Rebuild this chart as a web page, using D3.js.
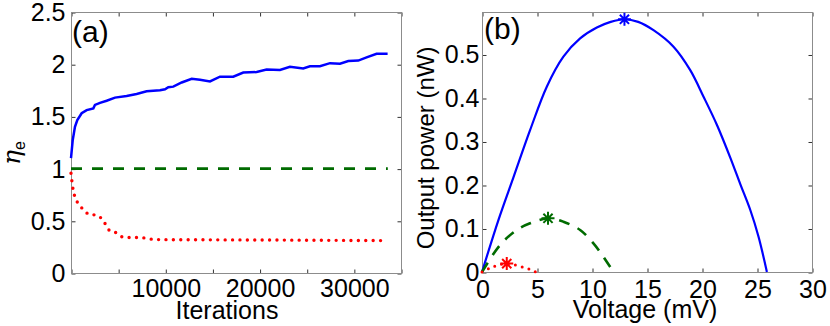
<!DOCTYPE html>
<html>
  <head>
    <meta charset="UTF-8">
    <style>
      body {
        margin: 0;
        background: white;
        font-family: 'Liberation Sans', Arial, sans-serif;
      }

      .axis text {
        font-size: 25px;
        fill: black;
      }

      .axis .domain {
        opacity: 0;
      }

      .axis .tick line {
        stroke: #333;
      }

      .frame {
        fill: none;
        stroke: #8c8c8c;
      }

      .label {
        font-size: 25px;
      }
    </style>
    <script src="https://d3js.org/d3.v7.min.js"></script>
  </head>

  <body>
    <svg id="chart"></svg>

    <script type="text/javascript">
      // panel (a): efficiency vs iterations
      let iterBlue = [0, 180, 420, 670, 1130, 1660, 2370, 2540, 3075, 3780, 4670, 5900, 6960, 8020, 9440,
        9970, 10320, 10850, 11740, 12800, 13680, 14740, 15800, 17210, 18270, 19690, 20750, 22160, 23220,
        24630, 25340, 26400, 27470, 28530, 29410, 30470, 31350, 32410, 33580]
      let etaBlue = [1.10, 1.27, 1.40, 1.465, 1.53, 1.56, 1.577, 1.61, 1.63, 1.65, 1.68, 1.695, 1.715, 1.74, 1.75,
        1.76, 1.78, 1.785, 1.825, 1.86, 1.85, 1.835, 1.88, 1.88, 1.92, 1.925, 1.95, 1.945, 1.975,
        1.96, 1.98, 1.98, 2.01, 2.005, 2.03, 2.035, 2.065, 2.10, 2.10]

      let iterGreen = [0, 33600]
      let etaGreen = [1.0, 1.0]

      let iterRed = [0, 230, 480, 900, 1410, 1940, 2650, 3360, 4060, 4590, 5650, 7240, 9010, 20670, 33200]
      let etaRed = [0.955, 0.795, 0.715, 0.65, 0.60, 0.56, 0.555, 0.51, 0.41, 0.395, 0.34, 0.34, 0.32, 0.316, 0.31]

      let iterTicks = [0, 5000, 10000, 15000, 20000, 25000, 30000, 35000]
      let iterLabels = [10000, 20000, 30000]
      let etaTicks = [0, 0.5, 1, 1.5, 2, 2.5]

      // panel (b): output power vs voltage
      let voltBlue = [0, 1.5, 2.85, 4.37, 5.89, 7.40, 8.92, 10.44, 11.7, 12.95, 14.2, 15.59, 17.41, 18.93, 20.14,
        21.36, 22.57, 23.48, 24.39, 25.14, 25.9]
      let powBlue = [0, 0.12, 0.217, 0.326, 0.426, 0.495, 0.537, 0.562, 0.575, 0.581, 0.575, 0.556, 0.518, 0.464,
        0.403, 0.338, 0.263, 0.202, 0.1425, 0.081, 0]

      let voltGreen = [0, 1.64, 3.16, 4.37, 6.03, 7.40, 8.92, 10.13, 11.04, 11.95]
      let powGreen = [0, 0.062, 0.0966, 0.112, 0.1234, 0.1156, 0.0966, 0.066, 0.035, 0]

      let voltRed = [0, 1.03, 2.25, 3.46, 4.37, 4.91]
      let powRed = [0, 0.012, 0.0193, 0.013, 0.006, 0]

      let peakVolt = [12.95, 6.0, 2.25]
      let peakPow = [0.581, 0.1234, 0.0193]

      let voltTicks = [0, 5, 10, 15, 20, 25, 30]
      let powTicks = [0, 0.1, 0.2, 0.3, 0.4, 0.5]

      let colors = ['#0000ff', '#006b00', '#ff0000']

      function zip(xs, ys) {
        return xs.map((x, i) => ({ x: x, y: ys[i] }))
      }

      let svg = d3.select('#chart')
        .attr('width', 830)
        .attr('height', 326)

      function starPath(cx, cy, r) {
        let p = d3.path()
        let d = r * Math.SQRT1_2
        p.moveTo(cx - r, cy); p.lineTo(cx + r, cy)
        p.moveTo(cx, cy - r); p.lineTo(cx, cy + r)
        p.moveTo(cx - d, cy - d); p.lineTo(cx + d, cy + d)
        p.moveTo(cx - d, cy + d); p.lineTo(cx + d, cy - d)
        return p.toString()
      }

      function drawFrame(x, y) {
        let [x0, x1] = x.range()
        let [y0, y1] = y.range()
        svg.append('rect')
          .attr('class', 'frame')
          .attr('x', x0 + 0.5)
          .attr('y', y1 + 0.5)
          .attr('width', x1 - x0)
          .attr('height', y0 - y1)
      }

      function drawAxes(x, y, xTicks, yTicks, xFormat, yFormat, padX, padY) {
        let [x0, x1] = x.range()
        let [y0, y1] = y.range()

        svg.append('g')
          .attr('class', 'axis')
          .attr('transform', `translate(0.5, ${y0 + 0.5})`)
          .call(d3.axisBottom(x).tickValues(xTicks).tickSize(-4).tickPadding(padX).tickFormat(xFormat))

        svg.append('g')
          .attr('class', 'axis')
          .attr('transform', `translate(0.5, ${y1 + 0.5})`)
          .call(d3.axisTop(x).tickValues(xTicks).tickSize(-4).tickFormat(''))

        svg.append('g')
          .attr('class', 'axis')
          .attr('transform', `translate(${x0 + 0.5}, 0.5)`)
          .call(d3.axisLeft(y).tickValues(yTicks).tickSize(-4).tickPadding(padY).tickFormat(yFormat))

        svg.append('g')
          .attr('class', 'axis')
          .attr('transform', `translate(${x1 + 0.5}, 0.5)`)
          .call(d3.axisRight(y).tickValues(yTicks).tickSize(-4).tickFormat(''))

        drawFrame(x, y)
      }

      // ---- panel (a)
      let xA = d3.scaleLinear().domain([0, 35000]).range([71, 401])
      let yA = d3.scaleLinear().domain([0, 2.5]).range([273, 12])

      drawAxes(xA, yA, iterTicks, etaTicks,
        d => iterLabels.includes(d) ? d.toString() : '',
        d => d.toString(), 6, 6)

      let lineA = d3.line().x(d => xA(d.x)).y(d => yA(d.y))

      svg.append('path')
        .datum(zip(iterBlue, etaBlue))
        .attr('d', lineA)
        .attr('fill', 'none')
        .attr('stroke', colors[0])
        .attr('stroke-width', 2.5)

      svg.append('path')
        .datum(zip(iterGreen, etaGreen))
        .attr('d', lineA)
        .attr('fill', 'none')
        .attr('stroke', colors[1])
        .attr('stroke-width', 2.7)
        .attr('stroke-dasharray', '11 10')

      svg.append('path')
        .datum(zip(iterRed, etaRed))
        .attr('d', lineA.curve(d3.curveMonotoneX))
        .attr('fill', 'none')
        .attr('stroke', colors[2])
        .attr('stroke-width', 3.4)
        .attr('stroke-linecap', 'round')
        .attr('stroke-dasharray', '0 7.4')

      svg.append('text')
        .attr('class', 'label')
        .attr('x', 72)
        .attr('y', 42)
        .style('font-size', '30px')
        .text('(a)')

      svg.append('text')
        .attr('class', 'label')
        .attr('x', 227)
        .attr('y', 319)
        .attr('text-anchor', 'middle')
        .text('Iterations')

      let etaLabel = svg.append('text')
        .attr('transform', 'translate(20, 153) rotate(-90)')
        .attr('text-anchor', 'middle')
        .style('font-family', "'DejaVu Serif', serif")
      etaLabel.append('tspan')
        .style('font-size', '25px')
        .style('font-style', 'italic')
        .text('η')
      etaLabel.append('tspan')
        .attr('dy', 5)
        .style('font-size', '16px')
        .style('font-family', "'Liberation Sans', Arial, sans-serif")
        .text('e')

      // ---- panel (b)
      let xB = d3.scaleLinear().domain([0, 30]).range([482, 812])
      let yB = d3.scaleLinear().domain([0, 0.5977]).range([272, 12])

      drawAxes(xB, yB, voltTicks, powTicks, d => d.toString(), d => d.toString(), 8, 3)

      let lineB = d3.line().x(d => xB(d.x)).y(d => yB(d.y)).curve(d3.curveCatmullRom)

      svg.append('path')
        .datum(zip(voltBlue, powBlue))
        .attr('d', lineB)
        .attr('fill', 'none')
        .attr('stroke', colors[0])
        .attr('stroke-width', 2.2)

      svg.append('path')
        .datum(zip(voltGreen, powGreen))
        .attr('d', lineB)
        .attr('fill', 'none')
        .attr('stroke', colors[1])
        .attr('stroke-width', 2.6)
        .attr('stroke-dasharray', '11 9')

      svg.append('path')
        .datum(zip(voltRed, powRed))
        .attr('d', lineB)
        .attr('fill', 'none')
        .attr('stroke', colors[2])
        .attr('stroke-width', 3)
        .attr('stroke-linecap', 'round')
        .attr('stroke-dasharray', '0 7')

      svg.selectAll('.star')
        .data(zip(peakVolt, peakPow))
        .join('path')
        .attr('class', 'star')
        .attr('d', d => starPath(xB(d.x), yB(d.y), 6.5))
        .attr('fill', 'none')
        .attr('stroke', (d, i) => colors[i])
        .attr('stroke-width', 2)

      svg.append('text')
        .attr('class', 'label')
        .attr('x', 484)
        .attr('y', 39)
        .style('font-size', '30px')
        .text('(b)')

      svg.append('text')
        .attr('class', 'label')
        .attr('x', 645)
        .attr('y', 318)
        .attr('text-anchor', 'middle')
        .text('Voltage (mV)')

      svg.append('text')
        .attr('class', 'label')
        .attr('transform', 'translate(434, 148) rotate(-90)')
        .attr('text-anchor', 'middle')
        .style('font-size', '24px')
        .text('Output power (nW)')
    </script>
  </body>
</html>
